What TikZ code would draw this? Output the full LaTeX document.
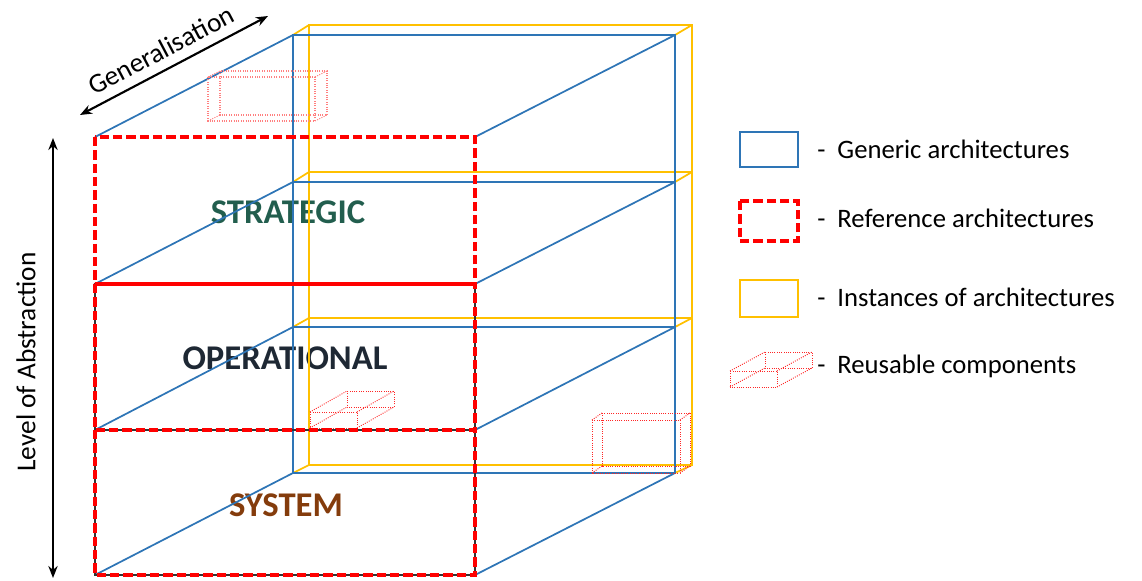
\documentclass[tikz,border=0pt]{standalone}
\usepackage{fontspec}
\setmainfont{Carlito}
\usetikzlibrary{arrows.meta}
\definecolor{gblue}{RGB}{46,117,182}
\definecolor{gyellow}{RGB}{255,192,0}
\definecolor{gred}{RGB}{255,0,0}
\definecolor{stratc}{RGB}{34,94,78}
\definecolor{operc}{RGB}{30,40,52}
\definecolor{systc}{RGB}{132,60,12}
\newcommand\rcbox[7]{%
  \draw[#7] (#1,#2) rectangle ++(#3,#4);
  \draw[#7] (#1+#5,#2+#6) rectangle ++(#3,#4);
  \draw[#7] (#1,#2) -- ++(#5,#6) (#1+#3,#2) -- ++(#5,#6)
            (#1,#2+#4) -- ++(#5,#6) (#1+#3,#2+#4) -- ++(#5,#6);
}
\begin{document}
\begin{tikzpicture}[x=0.75pt,y=-0.75pt,
  genericline/.style={draw=gblue, line width=1.3pt},
  instanceline/.style={draw=gyellow, line width=1.3pt},
  refarch/.style={draw=gred, line width=2.4pt, dash pattern=on 7pt off 3pt},
  refunder/.style={draw=black!80, line width=0.8pt},
  reusebox/.style={draw=gred!85, line width=0.7pt, densely dotted},
  reusefaint/.style={draw=gred!50, line width=0.8pt, densely dotted},
  layerlabel/.style={font=\fontsize{26}{30}\selectfont\bfseries, inner sep=0pt},
  legendtext/.style={font=\fontsize{20}{24}\selectfont, anchor=west, inner sep=0pt},
  axislabel/.style={font=\fontsize{20.5}{24}\selectfont, inner sep=0pt},
  axisarrow/.style={line width=1.6pt, {Stealth[length=9pt,width=7pt]}-{Stealth[length=9pt,width=7pt]}}
]
\useasboundingbox (0,0) rectangle (1142,581);

% layer labels
\node[layerlabel, text=stratc] (strat) at (288,212) {STRATEGIC};
\node[layerlabel, text=operc] (oper) at (285,358) {OPERATIONAL};
\node[layerlabel, text=systc] (syst) at (286,505) {SYSTEM};

% corners
\coordinate (F0L) at (95,137);  \coordinate (F0R) at (475,137);
\coordinate (F1L) at (95,284);  \coordinate (F1R) at (475,284);
\coordinate (F2L) at (95,430);  \coordinate (F2R) at (475,430);
\coordinate (F3L) at (95,575);  \coordinate (F3R) at (475,575);
\coordinate (B0L) at (293,35);  \coordinate (B0R) at (675,35);
\coordinate (B1L) at (293,182); \coordinate (B1R) at (675,182);
\coordinate (B2L) at (293,327); \coordinate (B2R) at (675,327);
\coordinate (B3L) at (293,473); \coordinate (B3R) at (675,473);
\coordinate (Y0L) at (309,25);  \coordinate (Y0R) at (692,25);
\coordinate (Y1L) at (309,172); \coordinate (Y1R) at (692,172);
\coordinate (Y2L) at (309,318); \coordinate (Y2R) at (692,318);
\coordinate (Y3L) at (309,465); \coordinate (Y3R) at (692,465);

% instances (yellow)
\draw[instanceline] (Y0L) rectangle (Y3R);
\draw[instanceline] (Y1L) -- (Y1R) (Y2L) -- (Y2R);
\foreach \i in {0,1,2,3}{
  \draw[instanceline] (B\i L) -- (Y\i L) (B\i R) -- (Y\i R);
}

% generic (blue)
\draw[genericline] (B0L) rectangle (B3R);
\draw[genericline] (B1L) -- (B1R) (B2L) -- (B2R);
\foreach \i in {0,1,2,3}{
  \draw[genericline] (F\i L) -- (B\i L) (F\i R) -- (B\i R);
}

% reusable components
\rcbox{208}{77}{107}{44}{12}{-6}{reusefaint}
\rcbox{310}{412}{47}{16}{37}{-21}{reusebox}
\rcbox{592}{420}{88}{53}{10}{-7}{reusebox}

% reference (red dashed)
\draw[refunder] (F1L) rectangle (F3R) (F2L) -- (F2R);
\draw[refarch] (F0L) rectangle (F1R);
\draw[refarch] (F1L) rectangle (F2R);
\draw[refarch] (F2L) rectangle (F3R);
\draw[draw=gred, line width=2.4pt] (F1L) -- (F1R);

% axes
\coordinate (GA) at (80,115); \coordinate (GB) at (268,16);
\draw[axisarrow] (GA) -- (GB);
\node[axislabel, rotate=27.8] (gen) at (161,50) {Generalisation};
\coordinate (LA) at (53,138); \coordinate (LB) at (53,578);
\draw[axisarrow] (LA) -- (LB);
\node[axislabel, rotate=90] (loa) at (26,362) {Level of Abstraction};

% legend
\draw[genericline, line width=1.5pt] (740,132) rectangle (798,167);
\draw[draw=gred, line width=2.6pt, dash pattern=on 7pt off 3pt] (740,201) rectangle (798,241);
\draw[instanceline, line width=1.5pt] (740,280) rectangle (798,317);
\rcbox{730}{371}{47}{16}{35}{-19}{reusebox}
\node[legendtext] (l1) at (817,149) {-\hspace{9pt}Generic architectures};
\node[legendtext] (l2) at (817,218) {-\hspace{9pt}Reference architectures};
\node[legendtext] (l3) at (817,297) {-\hspace{9pt}Instances of architectures};
\node[legendtext] (l4) at (817,366) {-\hspace{9pt}Reusable components};
\end{tikzpicture}
\end{document}
